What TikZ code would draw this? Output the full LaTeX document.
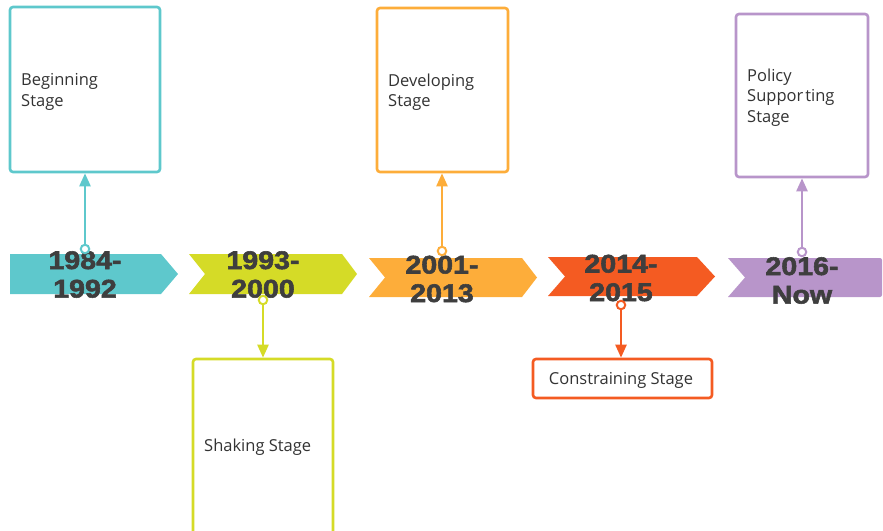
\documentclass[tikz,border=0pt]{standalone}
\usepackage{fontspec}
\setmainfont{Open Sans}
\newfontfamily\yearfont[FakeStretch=1.12,FakeBold=2.2]{Liberation Sans}
\usetikzlibrary{arrows.meta}
\definecolor{cteal}{HTML}{5EC8CC}
\definecolor{cyell}{HTML}{D5DB27}
\definecolor{corng}{HTML}{FDAD3A}
\definecolor{cred}{HTML}{F45B22}
\definecolor{cpurp}{HTML}{B895CA}
\definecolor{ytext}{HTML}{3E3E3E}
\definecolor{ltext}{HTML}{333333}
\tikzset{
  yearlbl/.style={text=ytext, inner sep=0pt, align=center,
    font=\yearfont\bfseries\fontsize{25.5}{28.5}\selectfont},
  stagebox/.style={draw=#1, line width=2.6pt, rounded corners=3pt, fill=white, inner sep=0pt},
  stagelbl/.style={text=ltext, inner sep=0pt, font=\fontsize{16.5}{20.5}\selectfont},
  dot/.style={circle, draw=#1, fill=white, line width=2pt, minimum size=8.5pt, inner sep=0pt},
  conn/.style={draw=#1, line width=2.4pt, -{Triangle[width=11pt,length=13pt]}},
}
\begin{document}
\begin{tikzpicture}[x=1pt,y=-1pt]
\useasboundingbox (0,0) rectangle (883,530);
\clip (0,0) rectangle (883,530);
% ribbons
\fill[cteal] (10,254) -- (161,254) -- (178,274) -- (161,294) -- (10,294) -- cycle;
\fill[cyell] (189,254) -- (342,254) -- (357,274) -- (342,294) -- (189,294) -- (205,274) -- cycle;
\fill[corng] (369,258) -- (522,258) -- (537,277.5) -- (522,297) -- (369,297) -- (385,277.5) -- cycle;
\fill[cred] (548,257) -- (697,257) -- (715,276.5) -- (697,296) -- (548,296) -- (565,276.5) -- cycle;
\fill[cpurp] (728,258) -- (880,258) to[out=0,in=90] (882,260) -- (882,295) to[out=-90,in=0] (880,297) -- (728,297) -- (745,277.5) -- cycle;
% year labels
\node[yearlbl] (y1) at (85,274.5) {1984-\\1992};
\node[yearlbl] (y2) at (263,274.5) {1993-\\2000};
\node[yearlbl] (y3) at (442,279) {2001-\\2013};
\node[yearlbl] (y4) at (621,278) {2014-\\2015};
\node[yearlbl] (y5) at (802,280.5) {2016-\\Now};
% boxes
\node[stagebox=cteal, minimum width=150pt, minimum height=165pt] (b1) at (85,89.5) {};
\node[stagebox=cyell, minimum width=140pt, minimum height=190pt] (b2) at (263,454) {};
\node[stagebox=corng, minimum width=131pt, minimum height=164pt] (b3) at (442.5,90) {};
\node[stagebox=cred, minimum width=179pt, minimum height=39pt] (b4) at (622.5,378.5) {};
\node[stagebox=cpurp, minimum width=132pt, minimum height=163pt] (b5) at (802,95.5) {};
% box labels
\node[stagelbl, anchor=west, align=left] (t1) at (21,92) {Beginning\\Stage};
\node[stagelbl, anchor=west] (t2) at (204,447) {Shaking Stage};
\node[stagelbl, anchor=west, align=left] (t3) at (388,92) {Developing\\Stage};
\node[stagelbl] (t4) at (621,380) {Constraining Stage};
\node[stagelbl, anchor=west, align=left] (t5) at (747,97.5) {Policy\\Suppor\kern2pt ting\\Stage};
% dots
\node[dot=cteal] (c1) at (85,249) {};
\node[dot=cyell] (c2) at (263,300) {};
\node[dot=corng] (c3) at (442,251) {};
\node[dot=cred] (c4) at (621,305) {};
\node[dot=cpurp] (c5) at (802,252) {};
% connectors
\draw[conn=cteal] (c1) -- (c1 |- b1.south);
\draw[conn=cyell] (c2) -- (c2 |- b2.north);
\draw[conn=corng] (c3) -- (c3 |- b3.south);
\draw[conn=cred] (c4) -- (c4 |- b4.north);
\draw[conn=cpurp] (c5) -- (c5 |- b5.south);
\end{tikzpicture}
\end{document}
